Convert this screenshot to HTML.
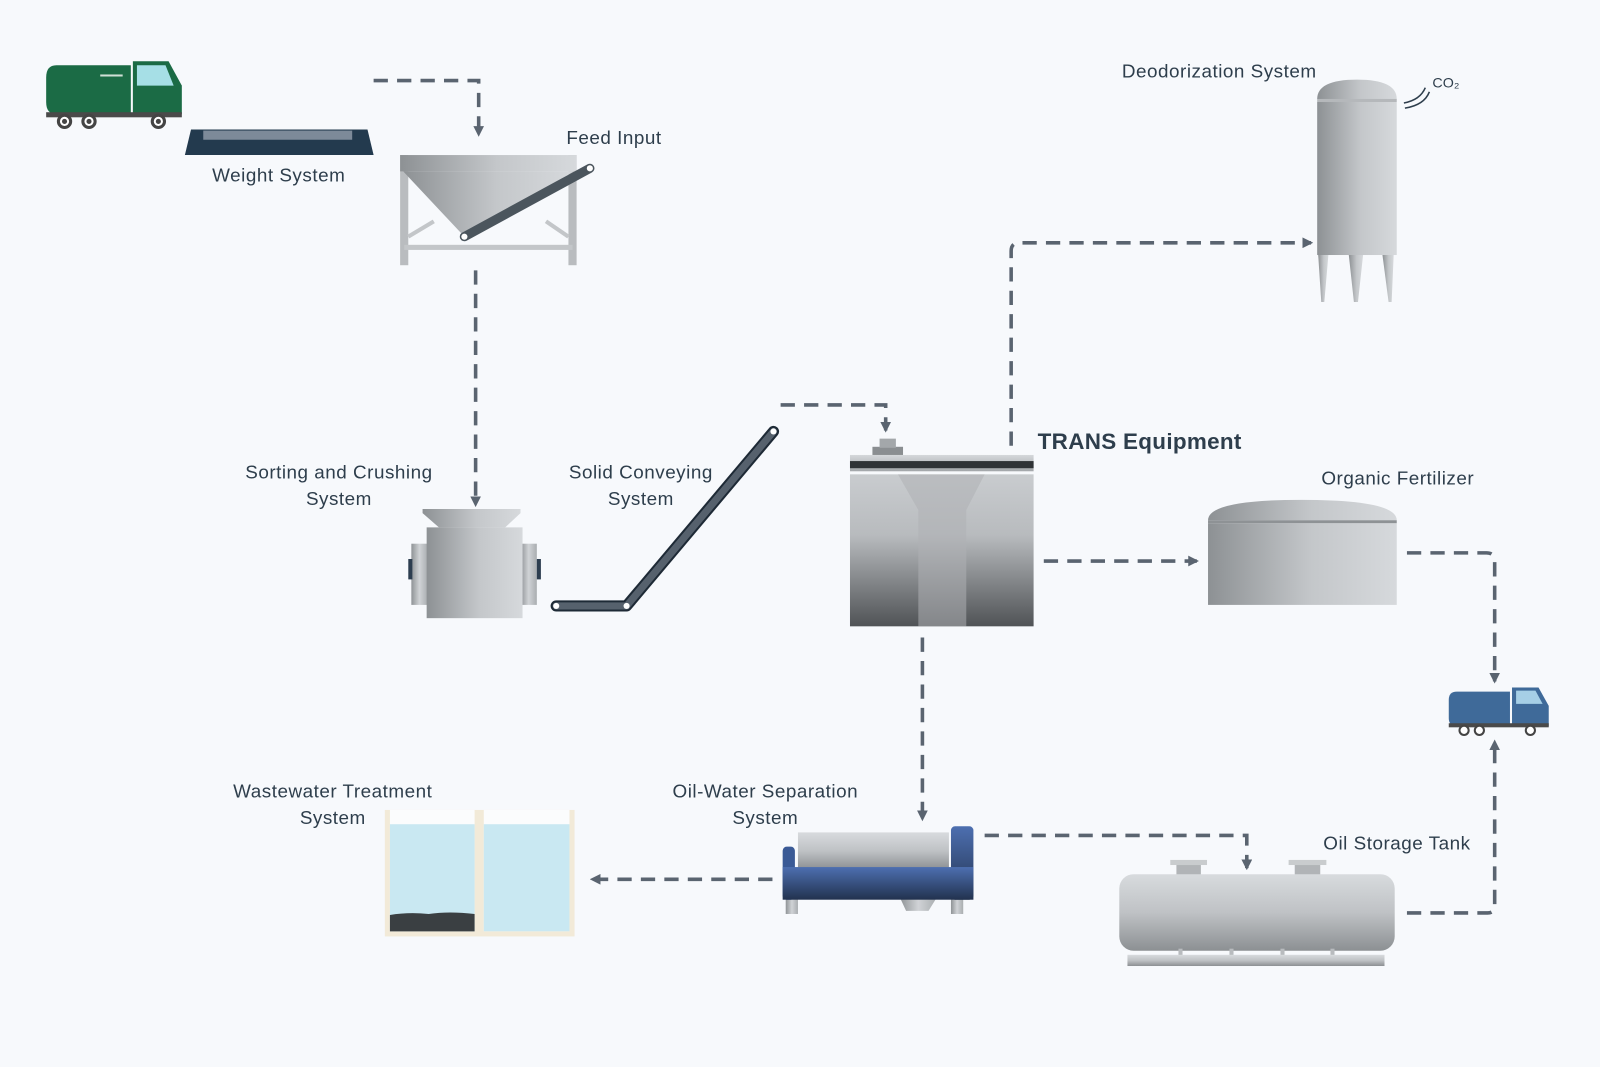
<!DOCTYPE html>
<html><head><meta charset="utf-8"><style>
html,body{margin:0;padding:0;background:#f7f9fc;}
svg{display:block;}
text{font-family:"Liberation Sans","DejaVu Sans",sans-serif;fill:#2e3e4c;font-size:18.5px;letter-spacing:0.5px;}
</style></head><body>
<svg width="1600" height="1067" viewBox="0 0 1568 1046" xmlns="http://www.w3.org/2000/svg">
<defs>
<linearGradient id="gh" x1="0" x2="1" y1="0" y2="0"><stop offset="0" stop-color="#8d9194"/><stop offset="0.55" stop-color="#c4c7ca"/><stop offset="1" stop-color="#d6d9dc"/></linearGradient>
<linearGradient id="gh2" x1="0" x2="1"><stop offset="0" stop-color="#8f9396"/><stop offset="0.5" stop-color="#d0d3d6"/><stop offset="1" stop-color="#a9adb0"/></linearGradient>
<linearGradient id="gv" x1="0" x2="0" y1="0" y2="1"><stop offset="0" stop-color="#c9cccf"/><stop offset="0.4" stop-color="#b8bbbe"/><stop offset="1" stop-color="#505356"/></linearGradient>
<linearGradient id="gt" x1="0" x2="0" y1="0" y2="1"><stop offset="0" stop-color="#d5d8db"/><stop offset="1" stop-color="#a2a6a9"/></linearGradient>
<linearGradient id="gtank" x1="0" x2="0" y1="0" y2="1"><stop offset="0" stop-color="#d8dbde"/><stop offset="0.5" stop-color="#bfc2c5"/><stop offset="1" stop-color="#8c9093"/></linearGradient>
<linearGradient id="gblue" x1="0" x2="0" y1="0" y2="1"><stop offset="0" stop-color="#4d6fb0"/><stop offset="1" stop-color="#22324e"/></linearGradient>
<marker id="ar" viewBox="0 0 10 10" refX="8" refY="5" markerWidth="3" markerHeight="3" orient="auto"><path d="M0 0L10 5L0 10z" fill="#5a6470"/></marker>
</defs>
<g fill="none" stroke="#5a6470" stroke-width="3.5" stroke-dasharray="14 9" marker-end="url(#ar)">
<path d="M366 79H469V132"/>
<path d="M466 265V495"/>
<path d="M765 397H868V422"/>
<path d="M991 437V246Q991 238 999 238H1285"/>
<path d="M1023 550H1173"/>
<path d="M1379 542H1457Q1465 542 1465 550V668"/>
<path d="M1379 895H1458Q1465 895 1465 888V727"/>
<path d="M904 625V803"/>
<path d="M965 819H1222V851"/>
<path d="M757 862H580"/>
</g>
<!-- green truck -->
<path d="M55 64H128V112H55Q45 112 45 100V76Q45 64 55 64z" fill="#1b6b45"/>
<path d="M130 60H165L178 84V112H130z" fill="#1b6b45"/>
<path d="M134 64H162L170 84H134z" fill="#a6dfe6"/>
<rect x="98" y="73" width="22" height="2" fill="#d0e0d6"/>
<rect x="45" y="110" width="133" height="5" fill="#4a4a4a"/>
<g fill="#fff" stroke="#444" stroke-width="3"><circle cx="63" cy="119" r="6"/><circle cx="87" cy="119" r="6"/><circle cx="155" cy="119" r="6"/></g>
<g fill="#444"><circle cx="63" cy="119" r="2.5"/><circle cx="87" cy="119" r="2.5"/><circle cx="155" cy="119" r="2.5"/></g>
<!-- weight system -->
<path d="M187 127H360L366 152H181z" fill="#233a4e"/>
<rect x="199" y="128" width="146" height="9" fill="#7d8a99"/>
<text x="273" y="178" text-anchor="middle">Weight System</text>
<!-- feed hopper -->
<rect x="392" y="152" width="8" height="108" fill="#b9bcbf"/>
<rect x="557" y="152" width="8" height="108" fill="#b9bcbf"/>
<rect x="396" y="240" width="165" height="5" fill="#c3c6c9"/>
<line x1="400" y1="232" x2="425" y2="217" stroke="#c3c6c9" stroke-width="4"/>
<line x1="557" y1="232" x2="535" y2="217" stroke="#c3c6c9" stroke-width="4"/>
<rect x="392" y="152" width="173" height="16" fill="url(#gh)"/>
<path d="M395 168H562L455 232z" fill="url(#gh)"/>
<line x1="455" y1="232" x2="578" y2="165" stroke="#4b555d" stroke-width="9" stroke-linecap="round"/>
<circle cx="455" cy="232" r="3" fill="#fff"/><circle cx="578" cy="165" r="3" fill="#fff"/>
<text x="555" y="141">Feed Input</text>
<!-- crusher -->
<text x="332" y="469" text-anchor="middle">Sorting and Crushing</text>
<text x="332" y="495" text-anchor="middle">System</text>
<rect x="403" y="533" width="16" height="60" fill="url(#gh2)"/>
<rect x="510" y="533" width="16" height="60" fill="url(#gh2)"/>
<rect x="400" y="548" width="4" height="20" fill="#2d3e50"/><rect x="526" y="548" width="4" height="20" fill="#2d3e50"/>
<path d="M414 499H510V503L495 517H430L414 503z" fill="url(#gh)"/>
<rect x="418" y="517" width="94" height="89" fill="url(#gh)"/>
<!-- conveyor -->
<text x="628" y="469" text-anchor="middle">Solid Conveying</text>
<text x="628" y="495" text-anchor="middle">System</text>
<path d="M545 594H614L758 423" fill="none" stroke="#1e2a36" stroke-width="11" stroke-linecap="round" stroke-linejoin="round"/>
<path d="M545 594H614L758 423" fill="none" stroke="#56616d" stroke-width="7" stroke-linecap="round" stroke-linejoin="round"/>
<g fill="#fff"><circle cx="545" cy="594" r="3"/><circle cx="614" cy="594" r="3"/><circle cx="758" cy="423" r="3"/></g>
<!-- TRANS -->
<rect x="855" y="438" width="30" height="9" fill="#8a8e91"/>
<rect x="862" y="430" width="16" height="9" fill="#a3a7aa"/>
<rect x="833" y="446" width="180" height="16" fill="url(#gt)"/>
<rect x="833" y="452" width="180" height="7" fill="#2f3336"/>
<rect x="833" y="465" width="180" height="149" fill="url(#gv)"/>
<path d="M880 465H965L947 500V614H900V500z" fill="#aeb1b4" opacity="0.55"/>
<text x="1017" y="440" style="font-size:22px;font-weight:bold;letter-spacing:0.3px">TRANS Equipment</text>
<!-- deodorization -->
<text x="1195" y="76" text-anchor="middle">Deodorization System</text>
<path d="M1291 97Q1291 78 1330 78Q1369 78 1369 97z" fill="url(#gh)"/>
<rect x="1291" y="97" width="78" height="3" fill="#b5b8bb"/>
<rect x="1291" y="100" width="78" height="150" fill="url(#gh)"/>
<g fill="url(#gh)"><path d="M1292 250H1302L1298 296H1295z"/><path d="M1322 250H1336L1331 296H1327z"/><path d="M1355 250H1366L1364 296H1361z"/></g>
<g fill="none" stroke="#2e3e4c" stroke-width="1.5"><path d="M1376 101Q1392 98 1397 86"/><path d="M1377 106Q1396 103 1401 90"/></g>
<text x="1404" y="86" style="font-size:14px;letter-spacing:0">CO₂</text>
<!-- organic fertilizer -->
<text x="1370" y="475" text-anchor="middle">Organic Fertilizer</text>
<path d="M1184 510Q1184 490 1276 490Q1369 490 1369 510z" fill="url(#gh)"/>
<rect x="1184" y="510" width="185" height="3" fill="#8e9295"/>
<rect x="1184" y="513" width="185" height="80" fill="url(#gh)"/>
<!-- blue truck -->
<path d="M1428 678H1480V712H1428Q1420 712 1420 704V686Q1420 678 1428 678z" fill="#3f6a99"/>
<path d="M1482 674H1508L1518 692V712H1482z" fill="#3f6a99"/>
<path d="M1486 677H1505L1512 690H1486z" fill="#a6cfe6"/>
<rect x="1420" y="709" width="98" height="4" fill="#4a4a4a"/>
<g fill="#fff" stroke="#444" stroke-width="2"><circle cx="1435" cy="716" r="4.5"/><circle cx="1450" cy="716" r="4.5"/><circle cx="1500" cy="716" r="4.5"/></g>
<!-- oil-water separation -->
<text x="750" y="782" text-anchor="middle">Oil-Water Separation</text>
<text x="750" y="808" text-anchor="middle">System</text>
<rect x="770" y="878" width="12" height="18" fill="url(#gh2)"/><rect x="932" y="878" width="12" height="18" fill="url(#gh2)"/>
<path d="M882 880H918L910 893H888z" fill="url(#gh2)"/>
<rect x="782" y="816" width="148" height="36" fill="url(#gtank)"/>
<rect x="767" y="830" width="12" height="52" rx="4" fill="#3a5a96"/>
<rect x="932" y="810" width="22" height="72" rx="4" fill="url(#gblue)"/>
<rect x="767" y="850" width="187" height="32" fill="url(#gblue)"/>
<!-- oil storage tank -->
<text x="1297" y="833">Oil Storage Tank</text>
<rect x="1147" y="843" width="36" height="5" fill="#c9ccce"/><rect x="1153" y="848" width="24" height="12" fill="#b1b4b7"/>
<rect x="1263" y="843" width="37" height="5" fill="#c9ccce"/><rect x="1269" y="848" width="25" height="12" fill="#b1b4b7"/>
<rect x="1097" y="857" width="270" height="75" rx="14" fill="url(#gtank)"/>
<g fill="#b8bbbe"><rect x="1155" y="930" width="4" height="10"/><rect x="1205" y="930" width="4" height="10"/><rect x="1255" y="930" width="4" height="10"/><rect x="1304" y="930" width="4" height="10"/></g>
<rect x="1105" y="936" width="252" height="11" fill="url(#gtank)"/>
<!-- wastewater -->
<text x="326" y="782" text-anchor="middle">Wastewater Treatment</text>
<text x="326" y="808" text-anchor="middle">System</text>
<rect x="377" y="794" width="186" height="124" fill="#f2ead8"/>
<rect x="382" y="794" width="83" height="119" fill="#fbfcfd"/>
<rect x="474" y="794" width="84" height="119" fill="#fbfcfd"/>
<rect x="382" y="808" width="83" height="105" fill="#c9e8f2"/>
<rect x="474" y="808" width="84" height="105" fill="#c9e8f2"/>
<path d="M382 897Q400 894 420 896Q440 893 465 896V913H382z" fill="#3a3f42"/>
</svg>
</body></html>
